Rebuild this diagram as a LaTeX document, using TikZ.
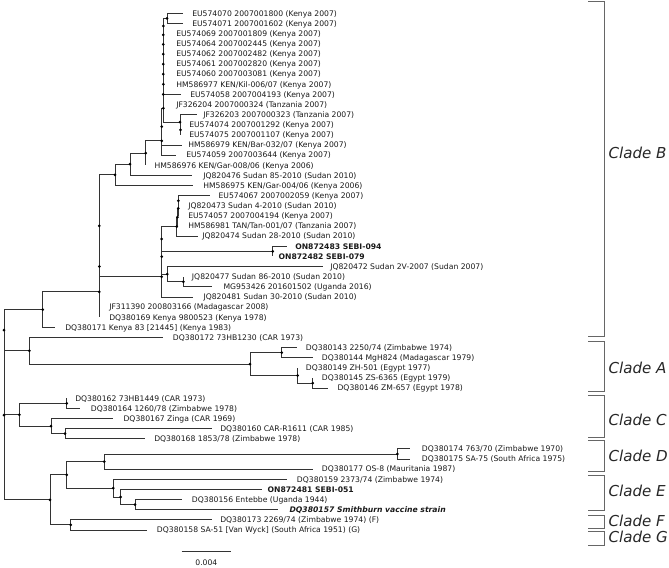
\documentclass[tikz,border=0pt]{standalone}
\usepackage{fontspec}
\setmainfont{DejaVu Sans}
\newcommand\leaffont{\fontsize{5.75}{7}\selectfont}
\newcommand\lf[5]{\coordinate (e#1) at (#2,#3);\node[lbl] (t#1) at (#4,#3) {#5};}
\begin{document}
\begin{tikzpicture}[x=0.75pt,y=-0.75pt,
  br/.style={draw=black!80,line width=0.65pt},
  dotm/.style={fill=black},
  lbl/.style={anchor=west,inner sep=0pt,font=\leaffont,text height=4.2pt,text depth=0pt,text=black!90},
  brk/.style={draw=black!60,line width=0.65pt},
  clade/.style={anchor=west,inner sep=0pt,font=\fontsize{11.3}{13}\selectfont\itshape,text=black!85}]
\useasboundingbox (0,0) rectangle (669,568);
% internal nodes
\coordinate (Root) at (4,415.02);
\coordinate (BA) at (4,330.17);
\coordinate (B) at (42.7,309.58);
\coordinate (P3) at (99.3,291.83);
\coordinate (P2) at (99.3,266.45);
\coordinate (P1) at (99.3,225.82);
\coordinate (U) at (115,174.87);
\coordinate (V) at (130,164.23);
\coordinate (W) at (145.7,153.07);
\coordinate (X) at (161.7,140.88);
\coordinate (X1) at (161.7,126.64);
\coordinate (Y9) at (163.3,108.28);
\coordinate (Y8) at (163.3,94.36);
\coordinate (Y7) at (163.3,84.25);
\coordinate (Y6) at (163.3,74.16);
\coordinate (Y5) at (163.3,64.11);
\coordinate (Y4) at (163.3,54.14);
\coordinate (Y3) at (163.3,44.32);
\coordinate (Y2) at (163.3,34.83);
\coordinate (Y1) at (163.3,25.96);
\coordinate (Z12) at (167,18.37);
\coordinate (N11) at (180,122.20);
\coordinate (N1213) at (180.5,129.80);
\coordinate (Q3) at (161.7,276.77);
\coordinate (Q2) at (161.7,256.59);
\coordinate (Q1) at (161.7,239.02);
\coordinate (R4) at (176.7,226.67);
\coordinate (R3) at (177.5,217.17);
\coordinate (R2) at (178.3,208.31);
\coordinate (R1) at (178.3,200.71);
\coordinate (N24) at (272.7,251.36);
\coordinate (N26) at (167.3,274.15);
\coordinate (N27) at (183.3,281.75);
\coordinate (A) at (29.3,350.76);
\coordinate (A2) at (250,364.06);
\coordinate (A3) at (281.7,352.66);
\coordinate (A4) at (297.7,375.45);
\coordinate (A5) at (312.7,383.05);
\coordinate (C) at (19.3,414.71);
\coordinate (C1) at (66.7,403.31);
\coordinate (C3) at (51,426.10);
\coordinate (C2) at (65,433.70);
\coordinate (DEFG) at (50,499.87);
\coordinate (DE) at (66.7,474.86);
\coordinate (D) at (104.3,461.56);
\coordinate (D1) at (397.3,453.96);
\coordinate (E) at (113.3,488.15);
\coordinate (E2) at (120.7,497.01);
\coordinate (E3) at (135,504.61);
\coordinate (FG) at (70.7,524.87);
% leaves
\lf{1}{183}{13.30}{192}{EU574070 2007001800 (Kenya 2007)}
\lf{2}{183}{23.43}{192}{EU574071 2007001602 (Kenya 2007)}
\lf{3}{163.3}{33.56}{176}{EU574069 2007001809 (Kenya 2007)}
\lf{4}{163.3}{43.69}{176}{EU574064 2007002445 (Kenya 2007)}
\lf{5}{163.3}{53.82}{176}{EU574062 2007002482 (Kenya 2007)}
\lf{6}{163.3}{63.95}{176}{EU574061 2007002820 (Kenya 2007)}
\lf{7}{163.3}{74.08}{176}{EU574060 2007003081 (Kenya 2007)}
\lf{8}{163.3}{84.21}{176}{HM586977 KEN/Kil-006/07 (Kenya 2007)}
\lf{9}{181}{94.34}{190}{EU574058 2007004193 (Kenya 2007)}
\lf{10}{163.3}{104.47}{176}{JF326204 2007000324 (Tanzania 2007)}
\lf{11}{197}{114.60}{203}{JF326203 2007000323 (Tanzania 2007)}
\lf{12}{180.5}{124.73}{189}{EU574074 2007001292 (Kenya 2007)}
\lf{13}{180.5}{134.86}{189}{EU574075 2007001107 (Kenya 2007)}
\lf{14}{181.7}{144.99}{188}{HM586979 KEN/Bar-032/07 (Kenya 2007)}
\lf{15}{175.7}{155.12}{186}{EU574059 2007003644 (Kenya 2007)}
\lf{16}{145.7}{165.25}{154.3}{HM586976 KEN/Gar-008/06 (Kenya 2006)}
\lf{17}{192}{175.38}{203}{JQ820476 Sudan 85-2010 (Sudan 2010)}
\lf{18}{193.3}{185.51}{203}{HM586975 KEN/Gar-004/06 (Kenya 2006)}
\lf{19}{210}{195.64}{218.3}{EU574067 2007002059 (Kenya 2007)}
\lf{20}{178.3}{205.77}{188}{JQ820473 Sudan 4-2010 (Sudan 2010)}
\lf{21}{178.3}{215.90}{188}{EU574057 2007004194 (Kenya 2007)}
\lf{22}{177.5}{226.03}{188}{HM586981 TAN/Tan-001/07 (Tanzania 2007)}
\lf{23}{198.3}{236.16}{202}{JQ820474 Sudan 28-2010 (Sudan 2010)}
\lf{24}{287}{246.29}{295}{\bfseries ON872483 SEBI-094}
\lf{25}{272.7}{256.42}{278.3}{\bfseries ON872482 SEBI-079}
\lf{26}{323}{266.55}{330}{JQ820472 Sudan 2V-2007 (Sudan 2007)}
\lf{27}{183.3}{276.68}{191.7}{JQ820477 Sudan 86-2010 (Sudan 2010)}
\lf{28}{211.7}{286.81}{223.3}{MG953426 201601502 (Uganda 2016)}
\lf{29}{193.3}{296.94}{203.3}{JQ820481 Sudan 30-2010 (Sudan 2010)}
\lf{30}{99.3}{307.07}{109}{JF311390 200803166 (Madagascar 2008)}
\lf{31}{99.3}{317.20}{109}{DQ380169 Kenya 9800523 (Kenya 1978)}
\lf{32}{55}{327.33}{65}{DQ380171 Kenya 83 [21445] (Kenya 1983)}
\lf{33}{163.3}{337.46}{172.7}{DQ380172 73HB1230 (CAR 1973)}
\lf{34}{296.7}{347.59}{305.7}{DQ380143 2250/74 (Zimbabwe 1974)}
\lf{35}{313.3}{357.72}{321.7}{DQ380144 MgH824 (Madagascar 1979)}
\lf{36}{297.7}{367.85}{305.7}{DQ380149 ZH-501 (Egypt 1977)}
\lf{37}{312.7}{377.98}{321.7}{DQ380145 ZS-6365 (Egypt 1979)}
\lf{38}{328.3}{388.11}{337.3}{DQ380146 ZM-657 (Egypt 1978)}
\lf{39}{66.7}{398.24}{75}{DQ380162 73HB1449 (CAR 1973)}
\lf{40}{80}{408.37}{90.7}{DQ380164 1260/78 (Zimbabwe 1978)}
\lf{41}{113.3}{418.50}{123.3}{DQ380167 Zinga (CAR 1969)}
\lf{42}{211.7}{428.63}{220}{DQ380160 CAR-R1611 (CAR 1985)}
\lf{43}{145}{438.76}{154}{DQ380168 1853/78 (Zimbabwe 1978)}
\lf{44}{410}{448.89}{421.7}{DQ380174 763/70 (Zimbabwe 1970)}
\lf{45}{410}{459.02}{421.7}{DQ380175 SA-75 (South Africa 1975)}
\lf{46}{313.3}{469.15}{321.7}{DQ380177 OS-8 (Mauritania 1987)}
\lf{47}{286.7}{479.28}{296.7}{DQ380159 2373/74 (Zimbabwe 1974)}
\lf{48}{261.7}{489.41}{267.3}{\bfseries ON872481 SEBI-051}
\lf{49}{181.7}{499.54}{191.7}{DQ380156 Entebbe (Uganda 1944)}
\lf{50}{278.3}{509.67}{289.3}{\bfseries\itshape DQ380157 Smithburn vaccine strain}
\lf{51}{211.7}{519.80}{220}{DQ380173 2269/74 (Zimbabwe 1974) (F)}
\lf{52}{146.7}{529.93}{156.7}{DQ380158 SA-51 [Van Wyck] (South Africa 1951) (G)}
% branches
\foreach \p/\c in {Root/BA,Root/C,Root/DEFG,BA/B,BA/A,B/P3,B/e32,P3/P2,P3/e31,P2/P1,P2/e30,
  P1/U,P1/Q3,U/V,U/e18,V/W,V/e17,W/X,W/e16,X/X1,X/e15,X1/Y9,X1/e14,Y9/Y8,Y9/N11,
  Y8/Y7,Y8/e10,Y7/Y6,Y7/e9,Y6/Y5,Y6/e8,Y5/Y4,Y5/e7,Y4/Y3,Y4/e6,Y3/Y2,Y3/e5,Y2/Y1,Y2/e4,
  Y1/Z12,Y1/e3,Z12/e1,Z12/e2,N11/e11,N11/N1213,N1213/e12,N1213/e13,
  Q3/Q2,Q3/e29,Q2/Q1,Q2/N26,Q1/R4,Q1/N24,R4/R3,R4/e23,R3/R2,R3/e22,R2/R1,R2/e21,R1/e19,R1/e20,
  N24/e24,N24/e25,N26/e26,N26/N27,N27/e27,N27/e28,
  A/e33,A/A2,A2/A3,A2/A4,A3/e34,A3/e35,A4/e36,A4/A5,A5/e37,A5/e38,
  C/C1,C/C3,C1/e39,C1/e40,C3/e41,C3/C2,C2/e42,C2/e43,
  DEFG/DE,DEFG/FG,DE/D,DE/E,D/D1,D/e46,D1/e44,D1/e45,E/e47,E/E2,E2/e48,E2/E3,E3/e49,E3/e50,
  FG/e51,FG/e52}
  \draw[br] (\p) |- (\c);
% node dots
\foreach \n in {Root,BA,B,P3,P2,P1,U,V,W,X,X1,Y9,Y8,Y7,Y6,Y5,Y4,Y3,Y2,Y1,Z12,N11,N1213,
  Q3,Q2,Q1,R4,R3,R2,R1,N24,N26,N27,A,A2,A3,A4,A5,C,C1,C3,C2,DEFG,DE,D,D1,E,E2,E3,FG}
  \fill[dotm] (\n) circle (1.5);
% clade brackets
\draw[brk] (588.3,1.5) -- (604,1.5) -- (604,336.7) -- (588.3,336.7);
\draw[brk] (588.3,341) -- (604,341) -- (604,391) -- (588.3,391);
\draw[brk] (588.3,395) -- (604,395) -- (604,437.3) -- (588.3,437.3);
\draw[brk] (588.3,440.7) -- (604,440.7) -- (604,471) -- (588.3,471);
\draw[brk] (588.3,475) -- (604,475) -- (604,510) -- (588.3,510);
\draw[brk] (588.3,515) -- (604,515) -- (604,528.3) -- (588.3,528.3);
\draw[brk] (588.3,531.7) -- (604,531.7) -- (604,545) -- (588.3,545);
\node[clade] (cB) at (608.3,153.3) {Clade B};
\node[clade] (cA) at (608.3,368.3) {Clade A};
\node[clade] (cC) at (608.3,420) {Clade C};
\node[clade] (cD) at (608.3,455.7) {Clade D};
\node[clade] (cE) at (608.3,490.7) {Clade E};
\node[clade] (cF) at (608.3,520.7) {Clade F};
\node[clade] (cG) at (608.3,536.7) {Clade G};
% scale bar
\coordinate (s1) at (181.7,551.7);
\coordinate (s2) at (231,551.7);
\draw[br] (s1) -- (s2);
\node[font=\leaffont,inner sep=0pt,text=black!90] (sl) at (206.4,563) {0.004};
\end{tikzpicture}
\end{document}
